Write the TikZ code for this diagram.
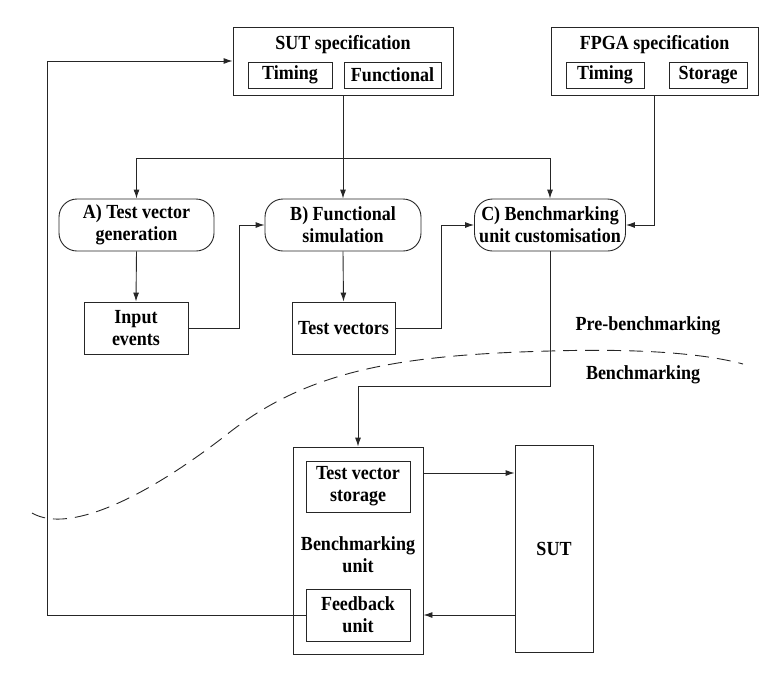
\documentclass[tikz,border=0pt]{standalone}
\usepackage{fontspec}
\setmainfont{Liberation Serif}[FakeStretch=0.9]
\usetikzlibrary{arrows.meta}
\begin{document}
\begin{tikzpicture}[x=1pt, y=-1pt, line width=0.9pt, draw=black!85,
        font=\fontsize{20}{22}\selectfont\bfseries,
        box/.style={draw, rectangle, inner sep=0pt, align=center},
        stage/.style={draw, rounded corners=18pt, inner sep=0pt, align=center,
            minimum height=52pt},
        flow/.style={-{Latex[length=9pt, width=6pt]}}]
    \useasboundingbox (0,0) rectangle (779,681);

    % specifications
    \node[box, minimum width=220pt, minimum height=68pt] (sutspec) at (343,61) {};
    \node (sutspectitle) at (343,45) {SUT specification};
    \node[box, minimum width=84pt, minimum height=26pt] (suttiming) at (290,75) {Timing};
    \node[box, minimum width=97pt, minimum height=26pt] (sutfunc) at (392.5,75) {Functional};

    \node[box, minimum width=207pt, minimum height=68pt] (fpgaspec) at (654.5,61) {};
    \node (fpgaspectitle) at (654.5,45) {FPGA specification};
    \node[box, minimum width=78pt, minimum height=26pt] (fpgatiming) at (605,75) {Timing};
    \node[box, minimum width=78pt, minimum height=26pt] (fpgastorage) at (708,75) {Storage};

    % pre-benchmarking stages
    \node[stage, minimum width=155pt] (A) at (136.5,225) {A) Test vector\\generation};
    \node[stage, minimum width=156pt] (B) at (343,225) {B) Functional\\simulation};
    \node[stage, minimum width=151pt] (C) at (550,225) {C) Benchmarking\\unit customisation};

    \node[box, minimum width=104pt, minimum height=52pt] (inev) at (136,328) {Input\\events};
    \node[box, minimum width=103pt, minimum height=52pt] (tvec) at (343.5,328) {Test vectors};

    % benchmarking
    \node[box, minimum width=130pt, minimum height=207pt] (bu) at (358,550.5) {};
    \node[align=center] (bulabel) at (358,555) {Benchmarking\\unit};
    \node[box, minimum width=104pt, minimum height=51pt] (stor) at (358,486.5) {Test vector\\storage};
    \node[box, minimum width=104pt, minimum height=52pt] (fb) at (358,615) {Feedback\\unit};
    \node[box, minimum width=78pt, minimum height=207pt] (sut) at (554,548.5) {SUT};

    \node (pre) at (648,326) {Pre-benchmarking};
    \node (bench) at (643,375) {Benchmarking};

    % connectors
    \coordinate (split) at (343,158);
    \draw[flow] (sutspec.south) -- (B.north);
    \draw[flow] (split) -| (A.north);
    \draw[flow] (split) -| (C.north);
    \draw[flow] (fpgaspec.south) |- (C.east);
    \draw[flow] (A.south) -- (inev.north);
    \draw[flow] (inev.east) -- ++(51,0) |- (B.west);
    \draw[flow] (B.south) -- (tvec.north);
    \draw[flow] (tvec.east) -- ++(46,0) |- (C.west);
    \draw[flow] (C.south) -- ++(0,135) -| (bu.north);
    \draw[flow] (bu.east |- 0,473) -- (sut.west |- 0,473);
    \draw[flow] (sut.west |- fb) -- (bu.east |- fb);
    \draw[flow] (fb.west) -- ++(-258,0) |- (sutspec.west);

    % boundary between the phases
    \draw[dash pattern=on 14pt off 8pt] (32,513) .. controls (70,535) and (150,495) .. (230,432)
        .. controls (310,370) and (400,355) .. (550,351)
        .. controls (650,348) and (710,355) .. (743,364);
\end{tikzpicture}
\end{document}
